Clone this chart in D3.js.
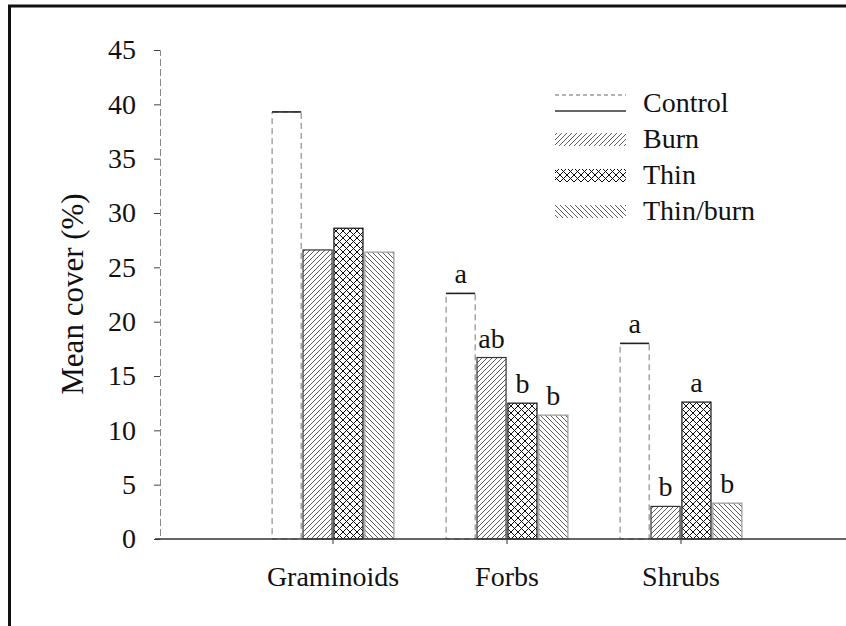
<!DOCTYPE html>
<html>
<head>
<meta charset="utf-8">
<script src="https://cdn.jsdelivr.net/npm/d3@7"></script>
<style>
  body { margin: 0; background: #fff; }
  svg { display: block; }
  svg text { font-family: "Liberation Serif", "Times New Roman", Times, "DejaVu Serif", serif !important; fill: #111; }
</style>
</head>
<body>
<svg id="chart" width="846" height="626"></svg>
<script>
// ---- data ----
const categories = ["Graminoids", "Forbs", "Shrubs"];
const seriesNames = ["Control", "Burn", "Thin", "Thin/burn"];
const controlVals  = [39.3, 22.6, 18.0];
const burnVals     = [26.6, 16.7, 3.0];
const thinVals     = [28.6, 12.5, 12.6];
const thinBurnVals = [26.4, 11.4, 3.3];
const controlLetters  = ["", "a", "a"];
const burnLetters     = ["", "ab", "b"];
const thinLetters     = ["", "b", "a"];
const thinBurnLetters = ["", "b", "b"];
const yTicks = [0, 5, 10, 15, 20, 25, 30, 35, 40, 45];
const yLabel = "Mean cover (%)";

const valuesBySeries = [controlVals, burnVals, thinVals, thinBurnVals];
const lettersBySeries = [controlLetters, burnLetters, thinLetters, thinBurnLetters];

const FONT = '"Liberation Serif", "Times New Roman", Times, "DejaVu Serif", serif';
const svg = d3.select("#chart");
const W = 846, H = 626;

// ---- patterns ----
const defs = svg.append("defs");
function hatch(id, size, paths, sw, col) {
  const p = defs.append("pattern").attr("id", id)
    .attr("patternUnits", "userSpaceOnUse").attr("width", size).attr("height", size);
  p.append("rect").attr("width", size).attr("height", size).attr("fill", "#fff");
  paths.forEach(d => p.append("path").attr("d", d).attr("stroke", col)
    .attr("stroke-width", sw).attr("fill", "none"));
}
hatch("pBurn", 5, ["M-1,1 L1,-1", "M0,5 L5,0", "M4,6 L6,4"], 0.8, "#333");
hatch("pThinBurn", 5, ["M-1,4 L1,6", "M0,0 L5,5", "M4,-1 L6,1"], 0.8, "#333");
hatch("pThin", 7, ["M0,0 L7,7", "M0,7 L7,0", "M-1,1 L1,-1", "M6,8 L8,6", "M-1,6 L1,8", "M6,-1 L8,1"], 1.0, "#111");

const fills = ["#fff", "url(#pBurn)", "url(#pThin)", "url(#pThinBurn)"];
const strokes = ["#777", "#333", "#111", "#999"];

// ---- frame ----
svg.append("line").attr("x1", 8).attr("x2", W).attr("y1", 6).attr("y2", 6)
  .attr("stroke", "#111").attr("stroke-width", 3);
svg.append("line").attr("x1", 9.5).attr("x2", 9.5).attr("y1", 5).attr("y2", H)
  .attr("stroke", "#111").attr("stroke-width", 3);

// ---- scales ----
const y = d3.scaleLinear().domain([0, 45]).range([539, 50]);
const x = d3.scaleBand().domain(categories).range([246, 768])
  .paddingInner(0.3).paddingOuter(0.15);
const xs = d3.scaleBand().domain(seriesNames).range([0, x.bandwidth()]).paddingInner(0.06);

// ---- y axis ----
const yAxisG = svg.append("g").attr("transform", "translate(160,0)")
  .call(d3.axisLeft(y).tickValues(yTicks).tickSize(6).tickPadding(18));
yAxisG.attr("font-family", FONT);
yAxisG.select(".domain").attr("stroke", "#888").attr("stroke-dasharray", "7,3");
yAxisG.selectAll(".tick line").attr("stroke", "#444");
yAxisG.selectAll(".tick text").attr("font-size", 28).style("font-family", FONT).attr("fill", "#111");

svg.append("text").attr("transform", "translate(83,294) rotate(-90)")
  .attr("text-anchor", "middle").attr("font-size", 31).style("font-family", FONT).text(yLabel);

// ---- bars ----
const flat = [];
categories.forEach((c, ci) => seriesNames.forEach((s, si) => {
  flat.push({ cat: c, ser: s, si, v: valuesBySeries[si][ci], letter: lettersBySeries[si][ci] });
}));

const barG = svg.append("g");
barG.selectAll("rect.bar").data(flat).join("rect").attr("class", "bar")
  .attr("x", d => x(d.cat) + xs(d.ser))
  .attr("y", d => y(d.v))
  .attr("width", xs.bandwidth())
  .attr("height", d => y(0) - y(d.v))
  .attr("fill", d => fills[d.si])
  .attr("stroke", d => strokes[d.si])
  .attr("stroke-width", d => d.si === 0 ? 1 : 1.2)
  .attr("stroke-dasharray", d => d.si === 0 ? "6,4" : null);

// solid top edge for control bars
barG.selectAll("line.ctop").data(flat.filter(d => d.si === 0)).join("line").attr("class", "ctop")
  .attr("x1", d => x(d.cat) + xs(d.ser))
  .attr("x2", d => x(d.cat) + xs(d.ser) + xs.bandwidth())
  .attr("y1", d => y(d.v)).attr("y2", d => y(d.v))
  .attr("stroke", "#222").attr("stroke-width", 1.6);

// letters
barG.selectAll("text.lett").data(flat.filter(d => d.letter)).join("text").attr("class", "lett")
  .attr("x", d => x(d.cat) + xs(d.ser) + xs.bandwidth() / 2)
  .attr("y", d => y(d.v) - 10)
  .attr("text-anchor", "middle").attr("font-size", 28).style("font-family", FONT)
  .text(d => d.letter);

// ---- x axis ----
svg.append("line").attr("x1", 155).attr("x2", W).attr("y1", y(0)).attr("y2", y(0))
  .attr("stroke", "#333").attr("stroke-width", 1.5);
const xAxisG = svg.append("g").attr("transform", `translate(0,${y(0)})`)
  .call(d3.axisBottom(x).tickSize(5));
xAxisG.attr("font-family", FONT);
xAxisG.select(".domain").remove();
xAxisG.selectAll(".tick line").attr("stroke", "#333");
xAxisG.selectAll(".tick text").attr("font-size", 28).attr("dy", 0).attr("y", 47)
  .style("font-family", FONT).attr("fill", "#111");

// ---- legend ----
const lg = svg.append("g");
const legY = d3.scalePoint().domain(seriesNames).range([103, 211]);
seriesNames.forEach((s, si) => {
  const cy = legY(s);
  if (si === 0) {
    lg.append("line").attr("x1", 555).attr("x2", 626).attr("y1", cy - 8).attr("y2", cy - 8)
      .attr("stroke", "#666").attr("stroke-dasharray", "4,3");
    lg.append("line").attr("x1", 555).attr("x2", 626).attr("y1", cy + 8).attr("y2", cy + 8)
      .attr("stroke", "#333").attr("stroke-width", 1.3);
  } else {
    lg.append("rect").attr("x", 555).attr("y", cy - 6).attr("width", 71).attr("height", 13)
      .attr("fill", fills[si]).attr("stroke", "none");
  }
  lg.append("text").attr("x", 643).attr("y", cy + 9).attr("font-size", 28)
    .style("font-family", FONT).text(s);
});
</script>
</body>
</html>
